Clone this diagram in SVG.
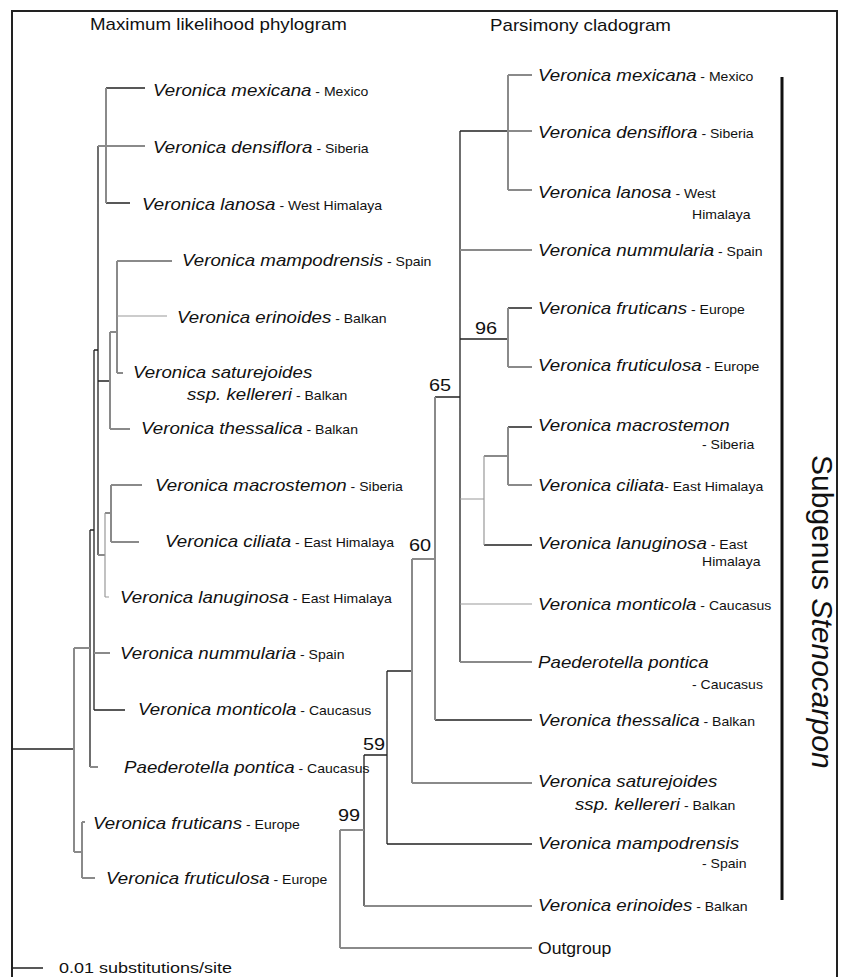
<svg xmlns="http://www.w3.org/2000/svg" width="843" height="977" viewBox="0 0 843 977">
<style>
text{font-family:"Liberation Sans",Arial,Helvetica,sans-serif;fill:#111}
.sp{font-style:italic;font-size:16px}
.rg{font-size:12px}
.ti{font-size:16px}
.bs{font-size:17px}
.k{stroke:#222;stroke-width:1.3;fill:none}
.g{stroke:#8a8a8a;stroke-width:2;fill:none}
.gt{stroke:#999;stroke-width:1.2;fill:none}
</style>
<rect width="843" height="977" fill="#fff"/>
<path d="M12 977V11H837V977" fill="none" stroke="#222" stroke-width="2"/>
<g id="titles">
<text class="ti" transform="translate(90 30) scale(1.17 1)">Maximum likelihood phylogram</text>
<text class="ti" transform="translate(490 31) scale(1.17 1)">Parsimony cladogram</text>
</g>
<g id="connectors">
<!-- ML tree dark -->
<path class="k" d="M106 88H145M106 203H130M98 146V555M94 350H98M94 350V710M94 710H125M98 381H110M90 530V767M90 530H94M12 749H74M12 968H43"/>
<!-- ML tree gray -->
<path class="g" d="M106 88V203M98 146H145M110 332V429M110 332H117M117 261V373M117 261H172M117 373H123M110 429H130M98 555H105M105 513H111M111 485V542M111 485H142M111 542H139M94 653H110M90 767H98M74 648V852M74 648H90M74 852H82M82 822V878M82 878H95M82 822H85"/>
<path class="gt" d="M117 316H167M105 513V597M105 597H109"/>
<!-- Parsimony tree dark -->
<path class="k" d="M460 131H508M460 131V662M460 339H508M508 308H532M508 427H532M484 545H532M435 397H460M435 720H532M387 671H412M387 671V844M387 844H532M364 755H387M364 755V906"/>
<!-- Parsimony tree gray -->
<path class="g" d="M508 75V190M508 75H532M508 190H532M508 131H532M460 250H532M508 308V367M508 367H532M508 427V485M508 485H532M484 456H508M460 662H532M435 397V720M412 559H435M412 559V783M412 783H532M364 906H532M340 830H364M340 830V948M340 948H532"/>
<path class="gt" d="M460 499H484M484 456V545M460 604H532"/>
<path d="M782 77V900" stroke="#111" stroke-width="3"/>
</g>
<g id="bootstrap">
<text class="bs" transform="translate(475 334) scale(1.17 1)">96</text>
<text class="bs" transform="translate(429 391) scale(1.17 1)">65</text>
<text class="bs" transform="translate(409 551) scale(1.17 1)">60</text>
<text class="bs" transform="translate(363 750) scale(1.17 1)">59</text>
<text class="bs" transform="translate(338 821) scale(1.17 1)">99</text>
</g>
<g id="ml-labels">
<g id="ml-mexicana"><text transform="translate(153 96) scale(1.17 1)"><tspan class="sp">Veronica mexicana</tspan><tspan class="rg"> - Mexico</tspan></text></g>
<g id="ml-densiflora"><text transform="translate(153 153) scale(1.17 1)"><tspan class="sp">Veronica densiflora</tspan><tspan class="rg"> - Siberia</tspan></text></g>
<g id="ml-lanosa"><text transform="translate(142 210) scale(1.17 1)"><tspan class="sp">Veronica lanosa</tspan><tspan class="rg"> - West Himalaya</tspan></text></g>
<g id="ml-mampodrensis"><text transform="translate(182 266) scale(1.17 1)"><tspan class="sp">Veronica mampodrensis</tspan><tspan class="rg"> - Spain</tspan></text></g>
<g id="ml-erinoides"><text transform="translate(177 323) scale(1.17 1)"><tspan class="sp">Veronica erinoides</tspan><tspan class="rg"> - Balkan</tspan></text></g>
<g id="ml-saturejoides"><text class="sp" transform="translate(133 378) scale(1.17 1)">Veronica saturejoides</text><text transform="translate(187 400) scale(1.17 1)"><tspan class="sp">ssp. kellereri</tspan><tspan class="rg"> - Balkan</tspan></text></g>
<g id="ml-thessalica"><text transform="translate(141 434) scale(1.17 1)"><tspan class="sp">Veronica thessalica</tspan><tspan class="rg"> - Balkan</tspan></text></g>
<g id="ml-macrostemon"><text transform="translate(155 491) scale(1.17 1)"><tspan class="sp">Veronica macrostemon</tspan><tspan class="rg"> - Siberia</tspan></text></g>
<g id="ml-ciliata"><text transform="translate(165 547) scale(1.17 1)"><tspan class="sp">Veronica ciliata</tspan><tspan class="rg"> - East Himalaya</tspan></text></g>
<g id="ml-lanuginosa"><text transform="translate(120 603) scale(1.17 1)"><tspan class="sp">Veronica lanuginosa</tspan><tspan class="rg"> - East Himalaya</tspan></text></g>
<g id="ml-nummularia"><text transform="translate(120 659) scale(1.17 1)"><tspan class="sp">Veronica nummularia</tspan><tspan class="rg"> - Spain</tspan></text></g>
<g id="ml-monticola"><text transform="translate(138 715) scale(1.17 1)"><tspan class="sp">Veronica monticola</tspan><tspan class="rg"> - Caucasus</tspan></text></g>
<g id="ml-paederotella"><text transform="translate(124 773) scale(1.17 1)"><tspan class="sp">Paederotella pontica</tspan><tspan class="rg"> - Caucasus</tspan></text></g>
<g id="ml-fruticans"><text transform="translate(93 829) scale(1.17 1)"><tspan class="sp">Veronica fruticans</tspan><tspan class="rg"> - Europe</tspan></text></g>
<g id="ml-fruticulosa"><text transform="translate(106 884) scale(1.17 1)"><tspan class="sp">Veronica fruticulosa</tspan><tspan class="rg"> - Europe</tspan></text></g>
<g id="scale-label"><text style="font-size:15px" transform="translate(59 973) scale(1.2 1)">0.01 substitutions/site</text></g>
</g>
<g id="mp-labels">
<g id="mp-mexicana"><text transform="translate(538 81) scale(1.17 1)"><tspan class="sp">Veronica mexicana</tspan><tspan class="rg"> - Mexico</tspan></text></g>
<g id="mp-densiflora"><text transform="translate(538 138) scale(1.17 1)"><tspan class="sp">Veronica densiflora</tspan><tspan class="rg"> - Siberia</tspan></text></g>
<g id="mp-lanosa"><text transform="translate(538 198) scale(1.17 1)"><tspan class="sp">Veronica lanosa</tspan><tspan class="rg"> - West</tspan></text><text class="rg" transform="translate(692 219) scale(1.17 1)">Himalaya</text></g>
<g id="mp-nummularia"><text transform="translate(538 256) scale(1.17 1)"><tspan class="sp">Veronica nummularia</tspan><tspan class="rg"> - Spain</tspan></text></g>
<g id="mp-fruticans"><text transform="translate(538 314) scale(1.17 1)"><tspan class="sp">Veronica fruticans</tspan><tspan class="rg"> - Europe</tspan></text></g>
<g id="mp-fruticulosa"><text transform="translate(538 371) scale(1.17 1)"><tspan class="sp">Veronica fruticulosa</tspan><tspan class="rg"> - Europe</tspan></text></g>
<g id="mp-macrostemon"><text class="sp" transform="translate(538 431) scale(1.17 1)">Veronica macrostemon</text><text class="rg" transform="translate(702 449) scale(1.17 1)">- Siberia</text></g>
<g id="mp-ciliata"><text transform="translate(538 491) scale(1.17 1)"><tspan class="sp">Veronica ciliata</tspan><tspan class="rg">- East Himalaya</tspan></text></g>
<g id="mp-lanuginosa"><text transform="translate(538 549) scale(1.17 1)"><tspan class="sp">Veronica lanuginosa</tspan><tspan class="rg"> - East</tspan></text><text class="rg" transform="translate(702 566) scale(1.17 1)">Himalaya</text></g>
<g id="mp-monticola"><text transform="translate(538 610) scale(1.17 1)"><tspan class="sp">Veronica monticola</tspan><tspan class="rg"> - Caucasus</tspan></text></g>
<g id="mp-paederotella"><text class="sp" transform="translate(538 668) scale(1.17 1)">Paederotella pontica</text><text class="rg" transform="translate(692 689) scale(1.17 1)">- Caucasus</text></g>
<g id="mp-thessalica"><text transform="translate(538 726) scale(1.17 1)"><tspan class="sp">Veronica thessalica</tspan><tspan class="rg"> - Balkan</tspan></text></g>
<g id="mp-saturejoides"><text class="sp" transform="translate(538 787) scale(1.17 1)">Veronica saturejoides</text><text transform="translate(575 810) scale(1.17 1)"><tspan class="sp">ssp. kellereri</tspan><tspan class="rg"> - Balkan</tspan></text></g>
<g id="mp-mampodrensis"><text class="sp" transform="translate(538 849) scale(1.17 1)">Veronica mampodrensis</text><text class="rg" transform="translate(702 868) scale(1.17 1)">- Spain</text></g>
<g id="mp-erinoides"><text transform="translate(538 911) scale(1.17 1)"><tspan class="sp">Veronica erinoides</tspan><tspan class="rg"> - Balkan</tspan></text></g>
<g id="mp-outgroup"><text style="font-size:16px" transform="translate(538 954) scale(1.1 1)">Outgroup</text></g>
</g>
<g id="subgenus">
<text style="font-size:30px" transform="translate(812 455) rotate(90)">Subgenus <tspan style="font-style:italic">Stenocarpon</tspan></text>
</g>
</svg>
